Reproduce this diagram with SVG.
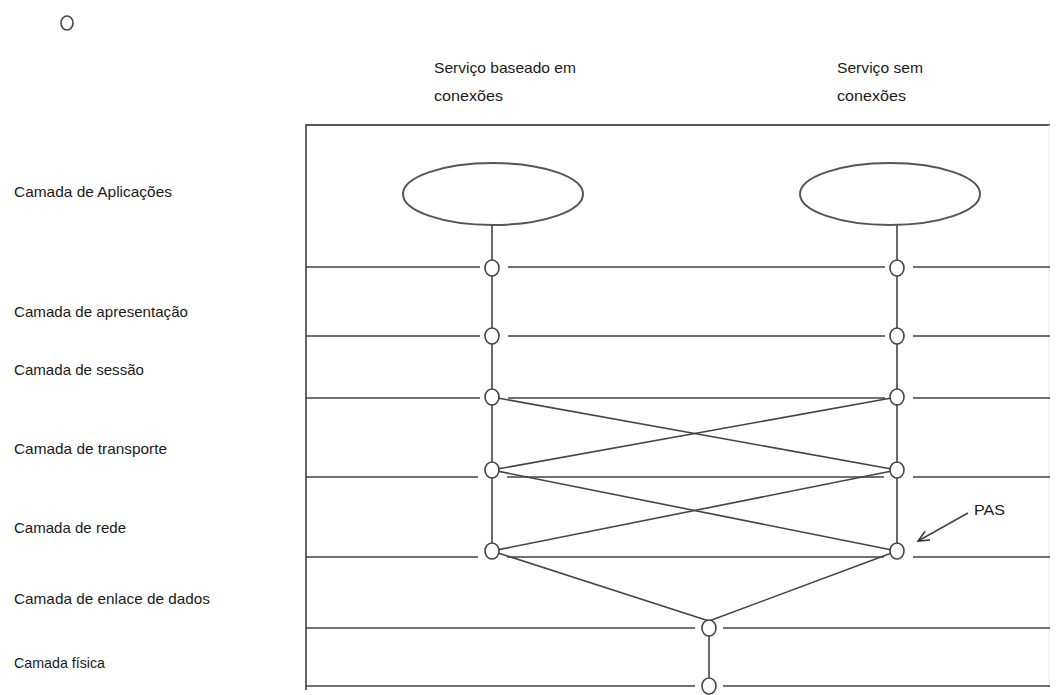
<svg xmlns="http://www.w3.org/2000/svg" width="1058" height="695" viewBox="0 0 1058 695">
<style>
.t{font-family:"Liberation Sans",Arial,sans-serif;font-size:15px;fill:#1a1a1a}
.ln{stroke:#444;stroke-width:1.6;fill:none}
.fr{stroke:#555;stroke-width:1.8;fill:none}
.nd{stroke:#444;stroke-width:1.6;fill:#fff}
.el{stroke:#555;stroke-width:2;fill:#fff}
</style>
<defs>
<marker id="arr" markerWidth="14" markerHeight="14" refX="12" refY="6" orient="auto" markerUnits="userSpaceOnUse">
<path d="M1,1 L12,6 L1,11" fill="none" stroke="#333" stroke-width="1.5"/>
</marker>
</defs>
<rect width="1058" height="695" fill="#fff"/>
<ellipse id="bullet" cx="67" cy="23" rx="6" ry="7" fill="none" stroke="#444" stroke-width="1.6"/>
<g id="headers">
<text class="t" x="434" y="73" textLength="142" lengthAdjust="spacingAndGlyphs">Serviço baseado em</text>
<text class="t" x="434" y="101" textLength="69" lengthAdjust="spacingAndGlyphs">conexões</text>
<text class="t" x="837" y="73" textLength="86" lengthAdjust="spacingAndGlyphs">Serviço sem</text>
<text class="t" x="837" y="101" textLength="69" lengthAdjust="spacingAndGlyphs">conexões</text>
</g>
<g id="layer-labels">
<text class="t" x="14" y="197" textLength="158" lengthAdjust="spacingAndGlyphs">Camada de Aplicações</text>
<text class="t" x="14" y="317" textLength="174" lengthAdjust="spacingAndGlyphs">Camada de apresentação</text>
<text class="t" x="14" y="375" textLength="130" lengthAdjust="spacingAndGlyphs">Camada de sessão</text>
<text class="t" x="14" y="454" textLength="153" lengthAdjust="spacingAndGlyphs">Camada de transporte</text>
<text class="t" x="14" y="533" textLength="112" lengthAdjust="spacingAndGlyphs">Camada de rede</text>
<text class="t" x="14" y="604" textLength="196" lengthAdjust="spacingAndGlyphs">Camada de enlace de dados</text>
<text class="t" x="14" y="668" textLength="91" lengthAdjust="spacingAndGlyphs">Camada física</text>
</g>
<g id="frame">
<line class="fr" x1="306" y1="125" x2="1050" y2="125" stroke-width="2.4"/>
<line class="fr" x1="306" y1="124" x2="306" y2="690"/>
<line x1="1049" y1="125" x2="1049" y2="686" stroke="#e4e4e4" stroke-width="1"/>
<path class="ln" d="M306,267 H480 M508,267 H885 M913,267 H1050"/>
<path class="ln" d="M306,336 H480 M508,336 H885 M913,336 H1050"/>
<path class="ln" d="M306,398 H480 M508,398 H885 M913,398 H1050"/>
<path class="ln" d="M306,477 H478 M507,477 H884 M913,477 H1050"/>
<path class="ln" d="M306,557 H478 M507,557 H884 M913,557 H1050"/>
<path class="ln" d="M306,628 H695 M723,628 H1050"/>
<path class="ln" d="M306,686 H695 M723,686 H1050"/>
</g>
<g id="connectors">
<line class="ln" x1="492" y1="225" x2="492" y2="551"/>
<line class="ln" x1="897" y1="225" x2="897" y2="551"/>
<line class="ln" x1="492" y1="397" x2="897" y2="470"/>
<line class="ln" x1="897" y1="397" x2="492" y2="470"/>
<line class="ln" x1="492" y1="470" x2="897" y2="551"/>
<line class="ln" x1="897" y1="470" x2="492" y2="551"/>
<line class="ln" x1="492" y1="551" x2="709" y2="621"/>
<line class="ln" x1="897" y1="551" x2="709" y2="621"/>
<line class="ln" x1="709" y1="628" x2="709" y2="686"/>
<line class="ln" x1="968" y1="513" x2="918" y2="541" marker-end="url(#arr)"/>
</g>
<g id="app-connection">
<ellipse class="el" cx="493" cy="194" rx="90" ry="31"/>
</g>
<g id="app-connectionless">
<ellipse class="el" cx="890" cy="194" rx="90" ry="31"/>
</g>
<g id="nodes-left">
<ellipse class="nd" cx="492" cy="268" rx="7" ry="8"/>
<ellipse class="nd" cx="492" cy="336" rx="7" ry="8"/>
<ellipse class="nd" cx="492" cy="397" rx="7" ry="8"/>
<ellipse class="nd" cx="492" cy="470" rx="7" ry="8"/>
<ellipse class="nd" cx="492" cy="551" rx="7" ry="8"/>
</g>
<g id="nodes-right">
<ellipse class="nd" cx="897" cy="268" rx="7" ry="8"/>
<ellipse class="nd" cx="897" cy="336" rx="7" ry="8"/>
<ellipse class="nd" cx="897" cy="397" rx="7" ry="8"/>
<ellipse class="nd" cx="897" cy="470" rx="7" ry="8"/>
<ellipse class="nd" cx="897" cy="551" rx="7" ry="8"/>
</g>
<g id="nodes-bottom">
<ellipse class="nd" cx="709" cy="628" rx="7" ry="8"/>
<ellipse class="nd" cx="709" cy="686" rx="7" ry="8"/>
</g>
<g id="pas">
<text class="t" x="974" y="515" textLength="31" lengthAdjust="spacingAndGlyphs">PAS</text>
</g>
</svg>
